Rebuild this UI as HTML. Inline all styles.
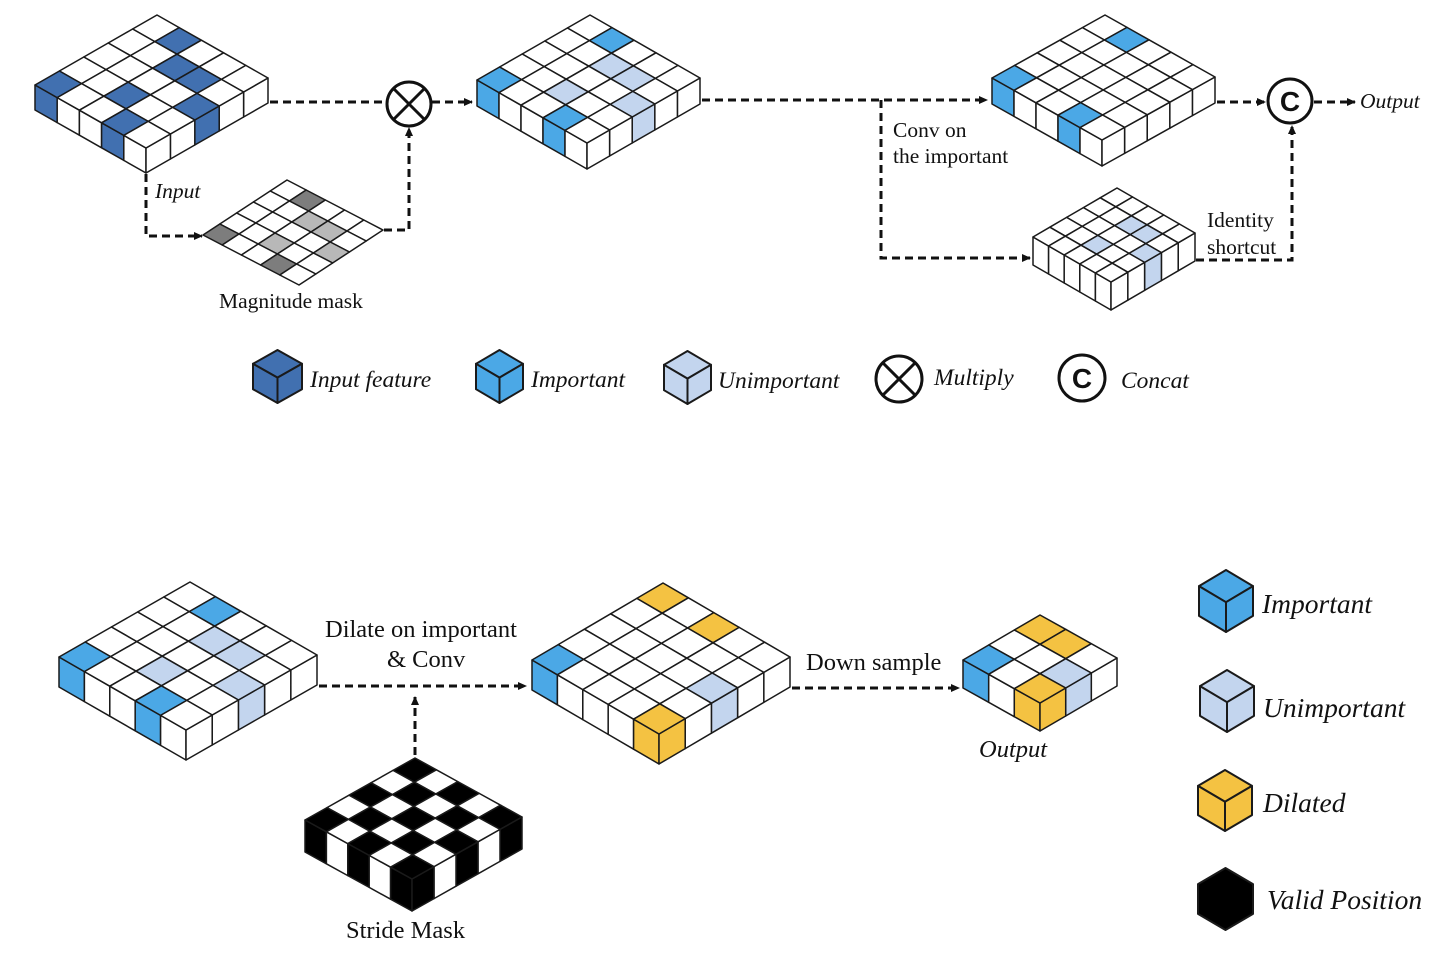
<!DOCTYPE html>
<html><head><meta charset="utf-8"><style>
html,body{margin:0;padding:0;background:#fff;}
svg{display:block;}
text{font-family:"Liberation Serif",serif;fill:#111;}
.i{font-style:italic;}
</style></head><body>
<svg id="s" width="1444" height="954" viewBox="0 0 1444 954" xmlns="http://www.w3.org/2000/svg">
<defs><marker id="a" markerWidth="10" markerHeight="10" refX="8" refY="5" orient="auto" markerUnits="userSpaceOnUse"><path d="M0,1 L9,5 L0,9 z" fill="#111"/></marker></defs>
<g id="lines" fill="none" stroke="#111" stroke-width="3" stroke-dasharray="8,5">
<path d="M270,102 H386"/>
<path d="M432,102 H472" marker-end="url(#a)"/>
<path d="M146,174 V236 H202" marker-end="url(#a)"/>
<path d="M384,230 H409 V128" marker-end="url(#a)"/>
<path d="M702,100 H987" marker-end="url(#a)"/>
<path d="M881,100 V258 H1030" marker-end="url(#a)"/>
<path d="M1217,102 H1265" marker-end="url(#a)"/>
<path d="M1314,102 H1355" marker-end="url(#a)"/>
<path d="M1196,260 H1292 V126" marker-end="url(#a)"/>
<path d="M319,686 H526" marker-end="url(#a)"/>
<path d="M415,755 V697" marker-end="url(#a)"/>
<path d="M792,688 H959" marker-end="url(#a)"/>
</g>
<g stroke="#111" stroke-width="3" fill="#fff">
<circle cx="409" cy="104" r="22"/>
<path d="M394,89 L424,119 M424,89 L394,119"/>
<circle cx="1290" cy="101" r="22"/>
<circle cx="899" cy="379" r="23"/>
<path d="M883,363 L915,395 M915,363 L883,395"/>
<circle cx="1082" cy="378" r="23"/>
</g>
<text x="1290" y="111" font-size="28" text-anchor="middle" style="font-family:'Liberation Sans',sans-serif;font-weight:bold">C</text>
<text x="1082" y="388" font-size="28" text-anchor="middle" style="font-family:'Liberation Sans',sans-serif;font-weight:bold">C</text>
<g id="g"></g>
<g font-size="21.5">
<text x="155" y="198" class="i">Input</text>
<text x="219" y="308">Magnitude mask</text>
<text x="893" y="137">Conv on</text>
<text x="893" y="163">the important</text>
<text x="1360" y="108" class="i">Output</text>
<text x="1207" y="227">Identity</text>
<text x="1207" y="254">shortcut</text>
</g>
<g font-size="23.5" class="i">
<text x="310" y="387">Input feature</text>
<text x="531" y="387">Important</text>
<text x="718" y="388">Unimportant</text>
<text x="934" y="385">Multiply</text>
<text x="1121" y="388">Concat</text>
</g>
<g font-size="24.5">
<text x="325" y="637">Dilate on important</text>
<text x="387" y="667">&amp; Conv</text>
<text x="806" y="670">Down sample</text>
<text x="979" y="757" class="i">Output</text>
<text x="346" y="938">Stride Mask</text>
</g>
<g font-size="27.5" class="i">
<text x="1262" y="613">Important</text>
<text x="1263" y="717">Unimportant</text>
<text x="1263" y="812">Dilated</text>
<text x="1267" y="909">Valid Position</text>
</g>
</svg>
<script>
var NS="http://www.w3.org/2000/svg",G=document.getElementById("g");
function poly(pts,fill,sw){var p=document.createElementNS(NS,"polygon");p.setAttribute("points",pts.map(function(q){return q[0].toFixed(1)+","+q[1].toFixed(1)}).join(" "));p.setAttribute("fill",fill);p.setAttribute("stroke","#1a1a1a");p.setAttribute("stroke-width",sw||1.5);p.setAttribute("stroke-linejoin","round");G.appendChild(p);}
function grid(T,R,L,n,h,col){
 var u=[(R[0]-T[0])/n,(R[1]-T[1])/n],v=[(L[0]-T[0])/n,(L[1]-T[1])/n];
 function P(i,j){return [T[0]+i*u[0]+j*v[0],T[1]+i*u[1]+j*v[1]];}
 function c(i,j){return col(i,j)||"#fff";}
 function dn(p){return [p[0],p[1]+h];}
 if(h>0){
  for(var i=0;i<n;i++){var a=P(i,n),b=P(i+1,n);poly([a,b,dn(b),dn(a)],c(i,n-1));}
  for(var j=0;j<n;j++){var a=P(n,j),b=P(n,j+1);poly([a,b,dn(b),dn(a)],c(n-1,j));}
 }
 for(var i=0;i<n;i++)for(var j=0;j<n;j++)poly([P(i,j),P(i+1,j),P(i+1,j+1),P(i,j+1)],c(i,j));
}
function map(m){return function(i,j){return m[i+","+j];};}
var DB="#4170b0",IB="#4ba8e6",LB="#c3d5ee",Y="#f4c242";
function pat(a,b){var m={};["1,0","0,4","3,4"].forEach(function(k){m[k]=a;});["2,1","3,1","2,3","4,2"].forEach(function(k){m[k]=b;});return m;}
grid([157,15],[268,78],[35,85],5,25,map(pat(DB,DB)));
grid([590,15],[700,78],[477,80],5,26,map(pat(IB,LB)));
grid([1105,15],[1215,77],[992,78],5,26,map({"1,0":IB,"0,4":IB,"3,4":IB}));
grid([1117,188],[1195,233],[1033,237],5,28,map({"2,1":LB,"3,1":LB,"2,3":LB,"4,2":LB}));
grid([287,180],[383,230],[203,235],5,0,map(pat("#7d7d7d","#b8b8b8")));
grid([190,582],[317,655],[59,657],5,30,map(pat(IB,LB)));
grid([663,583],[790,657],[532,660],5,30,map({"0,0":Y,"2,0":Y,"0,4":IB,"4,2":LB,"4,4":Y}));
grid([1040,615],[1117,658],[963,660],3,28,map({"0,0":Y,"1,0":Y,"0,2":IB,"2,1":LB,"2,2":Y}));
grid([415,758],[522,817],[305,820],5,32,function(i,j){return (i+j)%2==0?"#000":null;});
function cube(x0,y0,w,hh,fill,stroke,solid){
 var q=hh*0.26,s=hh-2*q,cx=x0+w/2;
 var t=[cx,y0],r=[x0+w,y0+q],l=[x0,y0+q],m=[cx,y0+2*q],rb=[x0+w,y0+q+s],lb=[x0,y0+q+s],b=[cx,y0+hh];
 if(solid){poly([t,r,rb,b,lb,l],fill,2);return;}
 poly([t,r,m,l],fill,2);poly([l,m,b,lb],fill,2);poly([m,r,rb,b],fill,2);
}
cube(253,350,49,53,DB);cube(476,350,47,53,IB);cube(664,351,47,53,LB);
cube(1199,570,54,62,IB);cube(1200,670,54,62,LB);cube(1198,770,54,61,Y);cube(1198,868,55,62,"#000","#000",true);
</script>
</body></html>
